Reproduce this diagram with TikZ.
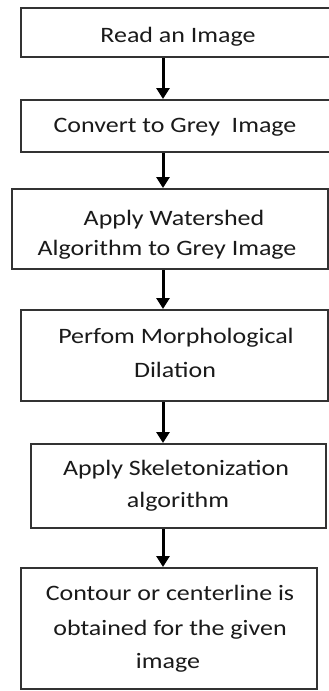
\documentclass[tikz,border=0pt]{standalone}
\usepackage{fontspec}
\setmainfont{Carlito}[FakeStretch=1.18]
\usetikzlibrary{arrows.meta}
\definecolor{boxline}{HTML}{333333}
\definecolor{txt}{HTML}{1A1A1A}
\tikzset{
  stepbox/.style={draw=boxline, line width=2pt, fill=white, inner sep=0pt},
  lbl/.style={anchor=base, inner sep=0pt, text=txt, font=\fontsize{22}{33}\selectfont},
  flow/.style={line width=3pt, draw=black, -{Triangle[width=13pt,length=11pt]}}
}
\newcommand{\boxat}[5]{% name, left, top, right, bottom
  \node[stepbox, minimum width={(#4-#2)*1pt}, minimum height={(#5-#3)*1pt}] (#1) at ({(#2+#4)/2},{(#3+#5)/2}) {};}
\begin{document}
\begin{tikzpicture}[x=1pt,y=-1pt]
\useasboundingbox (0,0) rectangle (329,691);
\boxat{b1}{21}{8}{332}{57}
\boxat{b2}{21}{100}{332}{152}
\boxat{b3}{12}{189}{328}{269}
\boxat{b4}{21}{310}{328}{401}
\boxat{b5}{31}{444}{326}{528}
\boxat{b6}{21}{568}{317}{689}
% texts
\node[lbl] (t1) at (178,42) {Read an Image};
\node[lbl] (t2) at (175,132) {Convert to Grey\ \ Image};
\node[lbl] (t3a) at (174,225) {Apply Watershed};
\node[lbl] (t3b) at (167,255) {Algorithm to Grey Image};
\node[lbl] (t4a) at (176,343) {Perfom Morphological};
\node[lbl] (t4b) at (175,377) {Dilation};
\node[lbl] (t5a) at (176,475) {Apply Skeletonization};
\node[lbl] (t5b) at (178,507) {algorithm};
\node[lbl] (t6a) at (170,600) {Contour or centerline is};
\node[lbl] (t6b) at (170,635) {obtained for the given};
\node[lbl] (t6c) at (168,668) {image};
% arrows
\draw[flow] (b1.south -| 163,0) -- (b2.north -| 163,0);
\draw[flow] (b2.south -| 163,0) -- (b3.north -| 163,0);
\draw[flow] (b3.south -| 163,0) -- (b4.north -| 163,0);
\draw[flow] (b4.south -| 163,0) -- (b5.north -| 163,0);
\draw[flow] (b5.south -| 163,0) -- (b6.north -| 163,0);
\end{tikzpicture}
\end{document}
